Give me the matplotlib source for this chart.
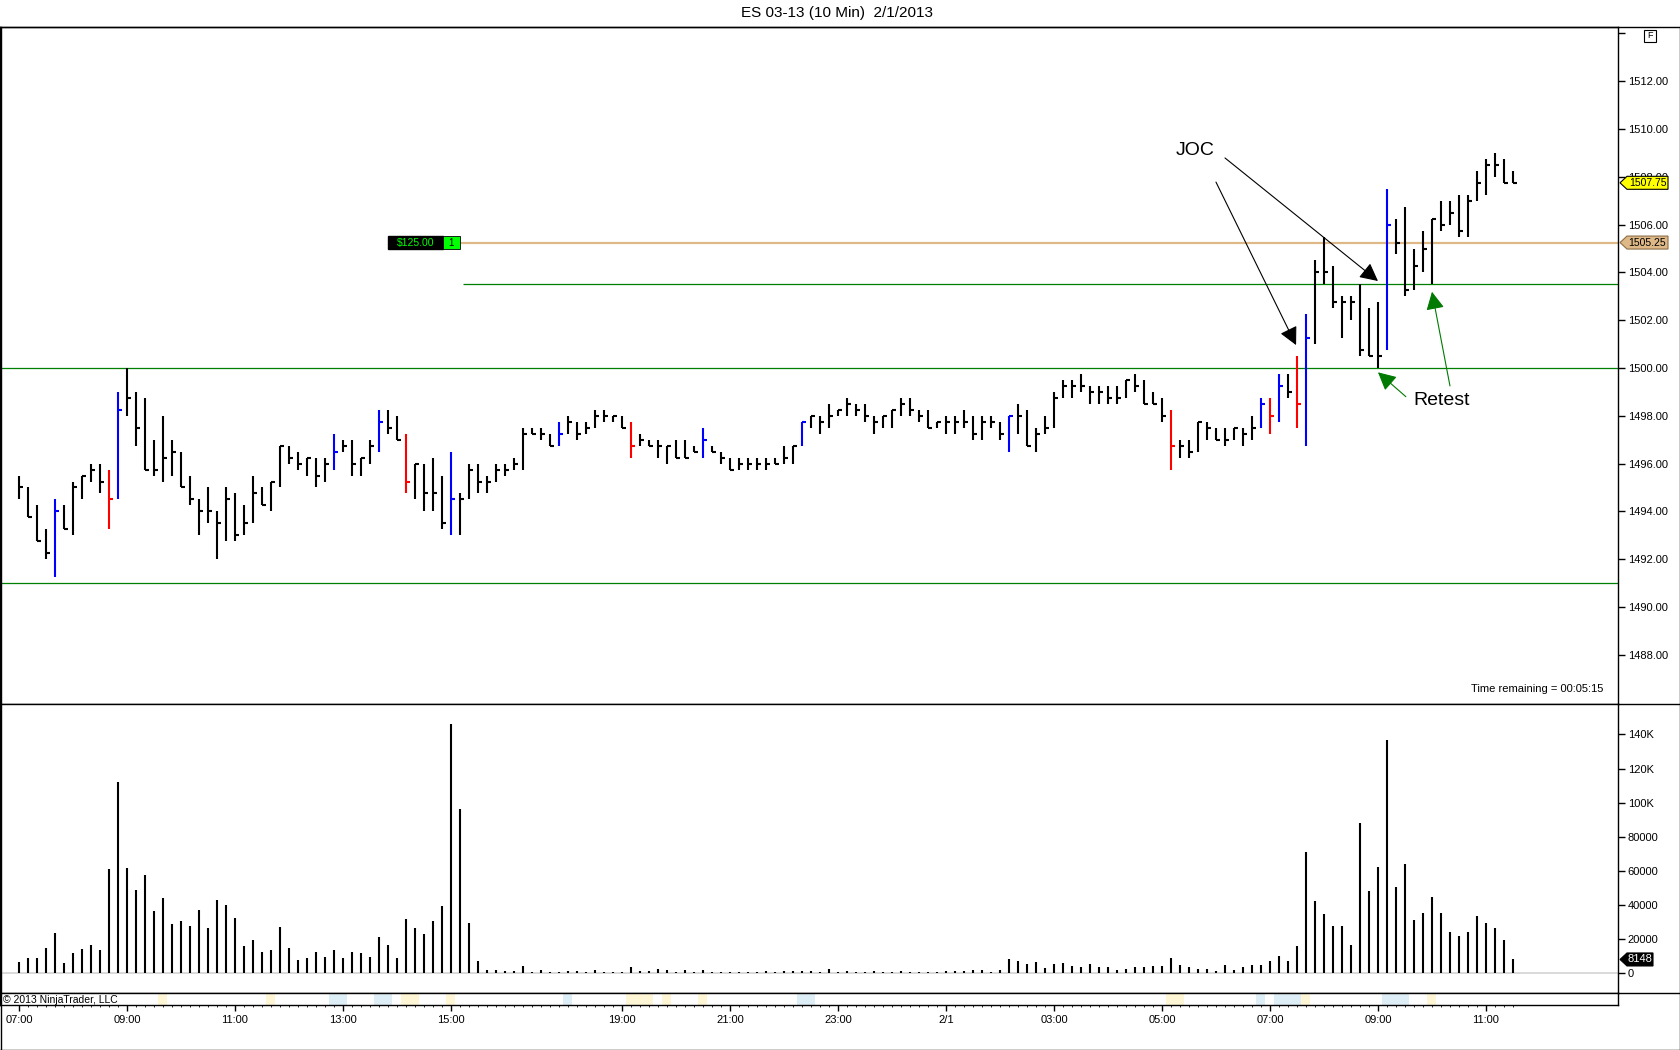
import matplotlib
matplotlib.use("Agg")
import matplotlib.pyplot as plt
import matplotlib.transforms as mtransforms
from matplotlib.patches import Rectangle, Polygon
from matplotlib.lines import Line2D
import numpy as np

plt.rcParams['font.family'] = ['Liberation Sans', 'DejaVu Sans']

# ---- data (10 min HLC bars, ES 03-13) ----
highs = [1495.5, 1495.0, 1494.25, 1493.25, 1494.5, 1494.25, 1495.25, 1495.5, 1496.0, 1496.0,
         1495.75, 1499.0, 1500.0, 1499.0, 1498.75, 1497.0, 1498.0, 1497.0, 1496.5, 1495.5,
         1494.5, 1495.0, 1494.0, 1495.0, 1494.75, 1494.25, 1495.5, 1495.0, 1495.25, 1496.75,
         1496.75, 1496.5, 1496.25, 1496.25, 1496.25, 1497.25, 1497.0, 1497.0, 1496.25, 1497.0,
         1498.25, 1498.25, 1498.0, 1497.25, 1496.0, 1496.0, 1496.25, 1495.5, 1496.5, 1494.75,
         1496.0, 1496.0, 1495.5, 1496.0, 1496.0, 1496.25, 1497.5, 1497.5, 1497.5, 1497.25,
         1497.75, 1498.0, 1497.75, 1497.75, 1498.25, 1498.25, 1498.0, 1498.0, 1497.75, 1497.25,
         1497.0, 1497.0, 1496.75, 1497.0, 1497.0, 1496.75, 1497.5, 1496.75, 1496.5, 1496.25,
         1496.25, 1496.25, 1496.25, 1496.25, 1496.25, 1496.75, 1496.75, 1497.75, 1498.0, 1498.0,
         1498.5, 1498.25, 1498.75, 1498.5, 1498.5, 1498.0, 1498.0, 1498.25, 1498.75, 1498.75,
         1498.25, 1498.25, 1497.75, 1498.0, 1498.0, 1498.25, 1498.0, 1498.0, 1498.0, 1497.75,
         1498.0, 1498.5, 1498.25, 1497.5, 1498.0, 1499.0, 1499.5, 1499.5, 1499.75, 1499.25,
         1499.25, 1499.25, 1499.25, 1499.5, 1499.75, 1499.5, 1499.0, 1498.75, 1498.25, 1497.0,
         1497.0, 1497.75, 1497.75, 1497.5, 1497.5, 1497.5, 1497.5, 1498.0, 1498.75, 1498.75,
         1499.75, 1499.75, 1500.5, 1502.25, 1504.5, 1505.5, 1504.25, 1503.0, 1503.0, 1503.5,
         1502.5, 1502.75, 1507.5, 1506.25, 1506.75, 1505.0, 1505.75, 1506.25, 1507.0, 1507.0,
         1507.25, 1507.25, 1508.25, 1508.75, 1509.0, 1508.75, 1508.25]
lows = [1494.5, 1493.75, 1492.75, 1492.0, 1491.25, 1493.25, 1493.0, 1494.5, 1495.25, 1494.75,
        1493.25, 1494.5, 1498.0, 1496.75, 1495.75, 1495.5, 1495.25, 1495.5, 1495.0, 1494.25,
        1493.0, 1493.5, 1492.0, 1492.75, 1492.75, 1493.0, 1493.5, 1494.25, 1494.0, 1495.0,
        1496.0, 1495.75, 1495.5, 1495.0, 1495.25, 1495.75, 1496.5, 1495.5, 1495.5, 1496.0,
        1496.5, 1497.25, 1497.0, 1494.75, 1494.5, 1494.0, 1494.0, 1493.25, 1493.0, 1493.0,
        1494.5, 1494.75, 1494.75, 1495.25, 1495.5, 1495.75, 1495.75, 1497.25, 1497.0, 1496.75,
        1496.75, 1497.25, 1497.0, 1497.25, 1497.5, 1497.75, 1497.75, 1497.5, 1496.25, 1496.75,
        1496.75, 1496.25, 1496.0, 1496.25, 1496.25, 1496.5, 1496.25, 1496.5, 1496.0, 1495.75,
        1495.75, 1495.75, 1495.75, 1495.75, 1496.0, 1496.0, 1496.0, 1496.75, 1497.5, 1497.25,
        1497.5, 1498.0, 1498.0, 1498.0, 1497.75, 1497.25, 1497.5, 1497.5, 1498.0, 1498.0,
        1497.75, 1497.5, 1497.5, 1497.25, 1497.25, 1497.5, 1497.0, 1497.0, 1497.5, 1497.0,
        1496.5, 1497.25, 1496.75, 1496.5, 1497.25, 1497.5, 1498.75, 1498.75, 1499.0, 1498.5,
        1498.5, 1498.5, 1498.5, 1498.75, 1499.0, 1498.5, 1498.5, 1497.75, 1495.75, 1496.25,
        1496.25, 1496.5, 1497.0, 1497.0, 1496.75, 1497.0, 1496.75, 1497.0, 1497.5, 1497.25,
        1497.75, 1498.75, 1497.5, 1496.75, 1501.0, 1503.5, 1502.5, 1501.25, 1502.0, 1500.5,
        1500.5, 1500.0, 1500.75, 1504.75, 1503.0, 1503.25, 1504.0, 1503.5, 1505.75, 1506.0,
        1505.5, 1505.5, 1507.0, 1507.25, 1508.0, 1507.75, 1507.75]
closes = [1495.0, 1493.75, 1492.75, 1492.25, 1494.0, 1493.25, 1495.0, 1495.5, 1495.75, 1495.25,
          1494.5, 1498.25, 1498.75, 1497.5, 1495.75, 1495.75, 1496.25, 1496.5, 1495.0, 1494.5,
          1494.0, 1494.0, 1493.5, 1494.5, 1493.0, 1493.5, 1494.75, 1494.25, 1495.25, 1496.75,
          1496.25, 1496.0, 1496.25, 1495.5, 1496.0, 1496.5, 1496.75, 1496.0, 1496.25, 1496.75,
          1497.75, 1497.5, 1497.0, 1495.25, 1496.0, 1494.75, 1494.75, 1493.5, 1494.5, 1494.5,
          1495.75, 1495.25, 1495.25, 1495.75, 1495.75, 1496.0, 1497.25, 1497.25, 1497.25, 1496.75,
          1497.25, 1497.75, 1497.25, 1497.5, 1498.0, 1498.0, 1498.0, 1497.5, 1496.75, 1497.0,
          1496.75, 1496.75, 1496.75, 1496.25, 1496.25, 1496.5, 1497.0, 1496.5, 1496.25, 1495.75,
          1496.0, 1496.0, 1496.0, 1496.0, 1496.0, 1496.25, 1496.75, 1497.75, 1498.0, 1497.75,
          1498.0, 1498.25, 1498.5, 1498.25, 1498.0, 1497.75, 1498.0, 1498.25, 1498.5, 1498.25,
          1498.0, 1497.5, 1497.75, 1497.75, 1497.75, 1497.75, 1497.25, 1497.75, 1497.75, 1497.25,
          1498.0, 1498.0, 1496.75, 1497.25, 1497.5, 1498.75, 1499.25, 1499.25, 1499.25, 1499.0,
          1499.0, 1498.75, 1498.75, 1499.5, 1499.25, 1498.5, 1498.5, 1498.0, 1496.75, 1496.75,
          1496.5, 1497.75, 1497.5, 1497.0, 1497.0, 1497.5, 1497.25, 1497.5, 1498.5, 1498.0,
          1499.25, 1499.0, 1498.5, 1501.25, 1504.0, 1504.0, 1502.75, 1502.75, 1502.75, 1500.75,
          1500.5, 1500.5, 1506.0, 1505.25, 1503.25, 1504.25, 1505.0, 1506.25, 1506.0, 1506.5,
          1505.75, 1507.0, 1507.75, 1508.5, 1508.5, 1507.75, 1507.75]
blue_bars = [4, 11, 35, 40, 48, 60, 76, 87, 110, 138, 140, 143, 152]
red_bars = [10, 43, 68, 128, 139, 142]

volume = [6400, 9000, 9000, 14800, 23600, 6100, 11900, 14300, 16600, 13700,
          61100, 112100, 61700, 48800, 57600, 36500, 44100, 28900, 30700, 27700,
          37100, 26600, 43000, 40000, 32400, 16000, 19500, 12500, 13700, 27100,
          14800, 7800, 9000, 12500, 9600, 13700, 9000, 12500, 11900, 9600,
          21300, 16600, 9000, 31800, 26600, 23000, 30700, 39500, 146100, 96300,
          29500, 7200, 1800, 1800, 1300, 1300, 4400, 700, 1800, 700,
          700, 1300, 1300, 700, 1800, 700, 700, 700, 4000, 1300,
          1300, 2400, 1800, 700, 1800, 700, 1800, 700, 700, 700,
          700, 700, 700, 1300, 700, 1300, 1300, 1300, 1300, 700,
          2400, 700, 1300, 700, 700, 1300, 700, 700, 1300, 700,
          700, 700, 700, 1300, 1300, 1300, 1800, 1800, 700, 1800,
          8400, 7300, 5300, 6700, 3300, 5300, 6000, 4400, 4000, 5300,
          4000, 4000, 2000, 2700, 4000, 4000, 4300, 4300, 9000, 4900,
          3700, 2500, 2500, 1400, 4900, 2000, 3700, 4900, 4900, 7200,
          10200, 7200, 16000, 71200, 42500, 34800, 27800, 27800, 16600, 88300,
          48300, 62400, 137000, 50700, 64200, 31300, 35400, 44800, 35400, 24300,
          21900, 24300, 33700, 29500, 26600, 19600, 8148]

time_ticks = [0, 12, 24, 36, 48, 67, 79, 91, 103, 115, 127, 139, 151, 163]
time_labels = ['07:00', '09:00', '11:00', '13:00', '15:00', '19:00', '21:00', '23:00',
               '2/1', '03:00', '05:00', '07:00', '09:00', '11:00']

price_ticks = [1488, 1490, 1492, 1494, 1496, 1498, 1500, 1502, 1504, 1506, 1508, 1510, 1512, 1514]
vol_ticks = [0, 20000, 40000, 60000, 80000, 100000, 120000, 140000]
vol_labels = ['0', '20000', '40000', '60000', '80000', '100K', '120K', '140K']

# light markers under the volume panel (bar from, bar to, colour)
mark_from = [16, 28, 35, 40, 43, 48, 61, 68, 72, 76, 87, 128, 138, 140, 143, 152, 157]
mark_to = [16, 28, 36, 41, 44, 48, 61, 70, 72, 76, 88, 129, 138, 142, 143, 154, 157]
mark_col = ['y', 'y', 'b', 'b', 'y', 'y', 'b', 'y', 'y', 'y', 'b', 'y', 'b', 'b', 'y', 'b', 'y']

last_price = 1507.75
avg_price = 1505.25
levels = [1500.0, 1491.0]
level2 = 1503.5

# ---- layout helpers (figure pixels) ----
W, H = 1680, 1050
def fx(p):
    return p / W
def fy(p):
    return 1 - p / H

n = len(closes)
x = np.arange(n)
cols = ['black'] * n
for i in blue_bars:
    cols[i] = '#0000FF'
for i in red_bars:
    cols[i] = '#FF0000'

xmin, xmax = -2.11, 177.67

fig = plt.figure(figsize=(16.8, 10.5), dpi=100)
fig.patch.set_facecolor('white')

ax = fig.add_axes([0, fy(704), fx(1618), fy(27) - fy(704)])
axv = fig.add_axes([0, fy(993), fx(1618), fy(704) - fy(993)])
axs = fig.add_axes([0, fy(1005), fx(1618), fy(993) - fy(1005)])

for a in (ax, axv, axs):
    a.set_xlim(xmin, xmax)
    for s in a.spines.values():
        s.set_linewidth(1.0)
        s.set_color('black')

# price panel
ax.set_ylim(1485.94, 1514.27)
ax.vlines(x, lows, highs, colors=cols, linewidth=1.5, zorder=4)
ax.hlines(closes, x, x + 0.42, colors=cols, linewidth=1.5, zorder=4)
for lv in levels:
    ax.axhline(lv, color='#008000', linewidth=0.9, zorder=2)
ax.hlines(level2, 49.3, xmax, color='#008000', linewidth=0.9, zorder=2)
ax.hlines(avg_price, 49.0, xmax, color='#DEB887', linewidth=1.6, zorder=2)

ax.yaxis.tick_right()
ax.set_yticks(price_ticks)
ax.set_yticklabels([f'{v:.2f}' if v < 1514 else '' for v in price_ticks])
ax.tick_params(axis='y', direction='out', length=5, width=1, pad=2, labelsize=8, colors='black')
ax.set_xticks([])

# position box
ax.add_patch(Rectangle((41.0, avg_price - 0.27), 6.1, 0.54, facecolor='black', edgecolor='black', zorder=5))
ax.text(44.05, avg_price, '$125.00', color='#00FF00', fontsize=7.5, ha='center', va='center', zorder=6)
ax.add_patch(Rectangle((47.1, avg_price - 0.27), 1.9, 0.54, facecolor='#00FF00', edgecolor='black', linewidth=0.6, zorder=5))
ax.text(48.05, avg_price, '1', color='black', fontsize=7, ha='center', va='center', zorder=6)

ax.text(0.9907, 0.022, 'Time remaining = 00:05:15', transform=ax.transAxes,
        ha='right', va='center', fontsize=8)

# annotations
jprops = dict(arrowstyle='-|>,head_length=0.55,head_width=0.28', mutation_scale=20,
              color='black', lw=0.8, shrinkA=0, shrinkB=0)
ax.annotate('', xy=(141.9, 1500.96), xytext=(133.0, 1507.78), arrowprops=jprops, zorder=7)
ax.annotate('', xy=(151.0, 1503.64), xytext=(134.0, 1508.79), arrowprops=jprops, zorder=7)
ax.text(130.7, 1509.12, 'JOC', fontsize=14, ha='center', va='center', zorder=7)

gprops = dict(arrowstyle='-|>,head_length=0.55,head_width=0.28', mutation_scale=20,
              color='#007A00', lw=0.8, shrinkA=0, shrinkB=0)
ax.annotate('', xy=(151.0, 1499.82), xytext=(154.1, 1498.8), arrowprops=gprops, zorder=7)
ax.annotate('', xy=(157.0, 1503.19), xytext=(159.0, 1499.25), arrowprops=gprops, zorder=7)
ax.text(158.1, 1498.62, 'Retest', fontsize=14, ha='center', va='center', zorder=7)


def axis_tag(a, y, label, face, tcolor, edge, body=50, fs=7.5):
    tr = mtransforms.Affine2D() + mtransforms.ScaledTranslation(1.0, y, a.get_yaxis_transform())
    verts = [(2, 0), (9, -6.5), (body, -6.5), (body, 6.5), (9, 6.5)]
    a.add_patch(Polygon(verts, closed=True, facecolor=face, edgecolor=edge, linewidth=0.8,
                        transform=tr, clip_on=False, zorder=20))
    a.annotate(label, xy=(1.0, y), xycoords=a.get_yaxis_transform(),
               xytext=((9 + body) / 2, 0), textcoords='offset pixels',
               ha='center', va='center', fontsize=fs, color=tcolor, zorder=21, annotation_clip=False)


axis_tag(ax, last_price, f'{last_price:.2f}', '#FFFF00', 'black', 'black')
axis_tag(ax, avg_price, f'{avg_price:.2f}', '#DEB887', 'black', '#8B6F47')

# volume panel
axv.set_ylim(-11500, 157800)
axv.axhline(0, color='#D3D3D3', linewidth=1.2, zorder=1)
axv.vlines(x, 0, volume, colors='black', linewidth=1.5, zorder=3)
axv.yaxis.tick_right()
axv.set_yticks(vol_ticks)
axv.set_yticklabels(vol_labels)
axv.tick_params(axis='y', direction='out', length=5, width=1, pad=2, labelsize=8, colors='black')
axv.set_xticks([])
axis_tag(axv, volume[-1], str(volume[-1]), 'black', 'white', 'black', body=35, fs=8)

# strip with markers, copyright and time axis
axs.set_ylim(0, 1)
axs.set_yticks([])
mc = {'y': '#FFF6D5', 'b': '#DDEEF6'}
for a0, a1, c in zip(mark_from, mark_to, mark_col):
    axs.add_patch(Rectangle((a0 - 0.5, 0), a1 - a0 + 1, 1, facecolor=mc[c], edgecolor='none'))
axs.text(0.002, 0.45, '\u00a9 2013 NinjaTrader, LLC', transform=axs.transAxes,
         ha='left', va='center', fontsize=7.5)
axs.set_xticks(time_ticks)
axs.set_xticklabels(time_labels)
axs.set_xticks(np.arange(0, n), minor=True)
axs.tick_params(axis='x', which='major', direction='out', length=4, width=1, pad=3, labelsize=8)
axs.tick_params(axis='x', which='minor', direction='out', length=1.5, width=0.6)

# frame pieces outside the axes
def fline(xs, ys, lw=1.0):
    fig.add_artist(Line2D([fx(v) for v in xs], [fy(v) for v in ys], color='black',
                          linewidth=lw, transform=fig.transFigure))

fline([0, 1680], [27, 27])
fline([1679.5, 1679.5], [27, 1050])
fline([0, 1680], [1049.5, 1049.5])
fline([0.5, 0.5], [27, 1050])
fline([1618, 1680], [704, 704])
fline([1618, 1680], [993, 993])

# "F" box
fig.add_artist(Rectangle((fx(1644), fy(42)), fx(12), fy(30) - fy(42), facecolor='white',
                         edgecolor='black', linewidth=0.8, transform=fig.transFigure))
fig.text(fx(1650), fy(36), 'F', fontsize=6.5, ha='center', va='center')

fig.text(fx(837), fy(13), 'ES 03-13 (10 Min)  2/1/2013', fontsize=11, ha='center', va='center')

fig.savefig('out.png', dpi=100, facecolor='white')
